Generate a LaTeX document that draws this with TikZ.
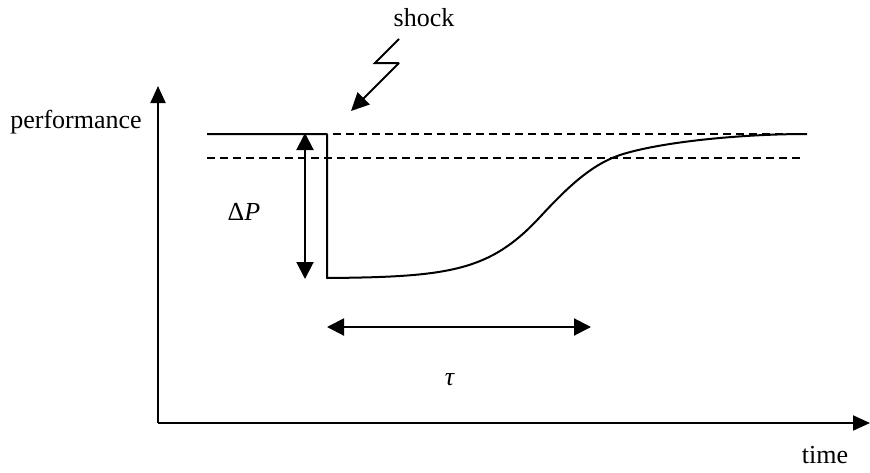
\documentclass[tikz,border=0pt]{standalone}
\usepackage{fontspec}
\setmainfont{Liberation Serif}
\usetikzlibrary{arrows.meta}
\begin{document}
\begin{tikzpicture}[x=1pt,y=-1pt,
  lbl/.style={anchor=base,inner sep=0pt,font=\fontsize{26}{30}\selectfont},
  axis/.style={line width=2pt,-{Triangle[length=17pt,width=15pt]}},
  dbl/.style={line width=2pt,{Triangle[length=17pt,width=17pt]}-{Triangle[length=17pt,width=17pt]}},
  shockarrow/.style={line width=2pt,-{Triangle[length=18pt,width=17pt]}},
  perf/.style={line width=2pt},
  guide/.style={line width=1.5pt,dash pattern=on 8pt off 5pt}]
\useasboundingbox (0,0) rectangle (870,472);
% axes
\coordinate (O) at (158,423);
\coordinate (Ytop) at (158,86);
\coordinate (Xend) at (870,423);
\draw[axis] (O) -- (Ytop);
\draw[axis] (O) -- (Xend);
\node[lbl] (perflbl) at (76,128) {performance};
\node[lbl] (timelbl) at (825,463) {time};
% guide lines
\coordinate (G1a) at (333,134);
\coordinate (G1b) at (806,134);
\coordinate (G2a) at (207,158);
\coordinate (G2b) at (802,158);
\draw[guide] (G1a) -- (G1b);
\draw[guide] (G2a) -- (G2b);
% performance curve
\coordinate (P0) at (207,134);
\coordinate (P1) at (327,134);
\coordinate (P2) at (327,278);
\coordinate (C1) at (540,217);
\coordinate (C2) at (620,155);
\coordinate (C3) at (807,134);
\draw[perf,line join=round] (P0) -- (P1) -- (P2)
  .. controls (450,277) and (490,271) .. (C1)
  .. controls (565,190) and (590,165) .. (C2)
  .. controls (660,142) and (740,134) .. (C3);
% shock
\node[lbl] (shocklbl) at (424,26) {shock};
\coordinate (S0) at (399,39);
\coordinate (S1) at (375,63);
\coordinate (S2) at (399,63);
\coordinate (S3) at (351,111);
\draw[line width=2pt] (S0) -- (S1) -- (S2);
\draw[shockarrow] (S2) -- (S3);
% Delta P
\coordinate (D0) at (305,133);
\coordinate (D1) at (305,279);
\draw[dbl] (D0) -- (D1);
\node[lbl] (dplbl) at (244,220) {Δ\textit{P}};
% tau
\coordinate (T0) at (327,327);
\coordinate (T1) at (591,327);
\draw[dbl] (T0) -- (T1);
\node[lbl] (taulbl) at (450,385) {\textit{τ}};
\end{tikzpicture}
\end{document}
